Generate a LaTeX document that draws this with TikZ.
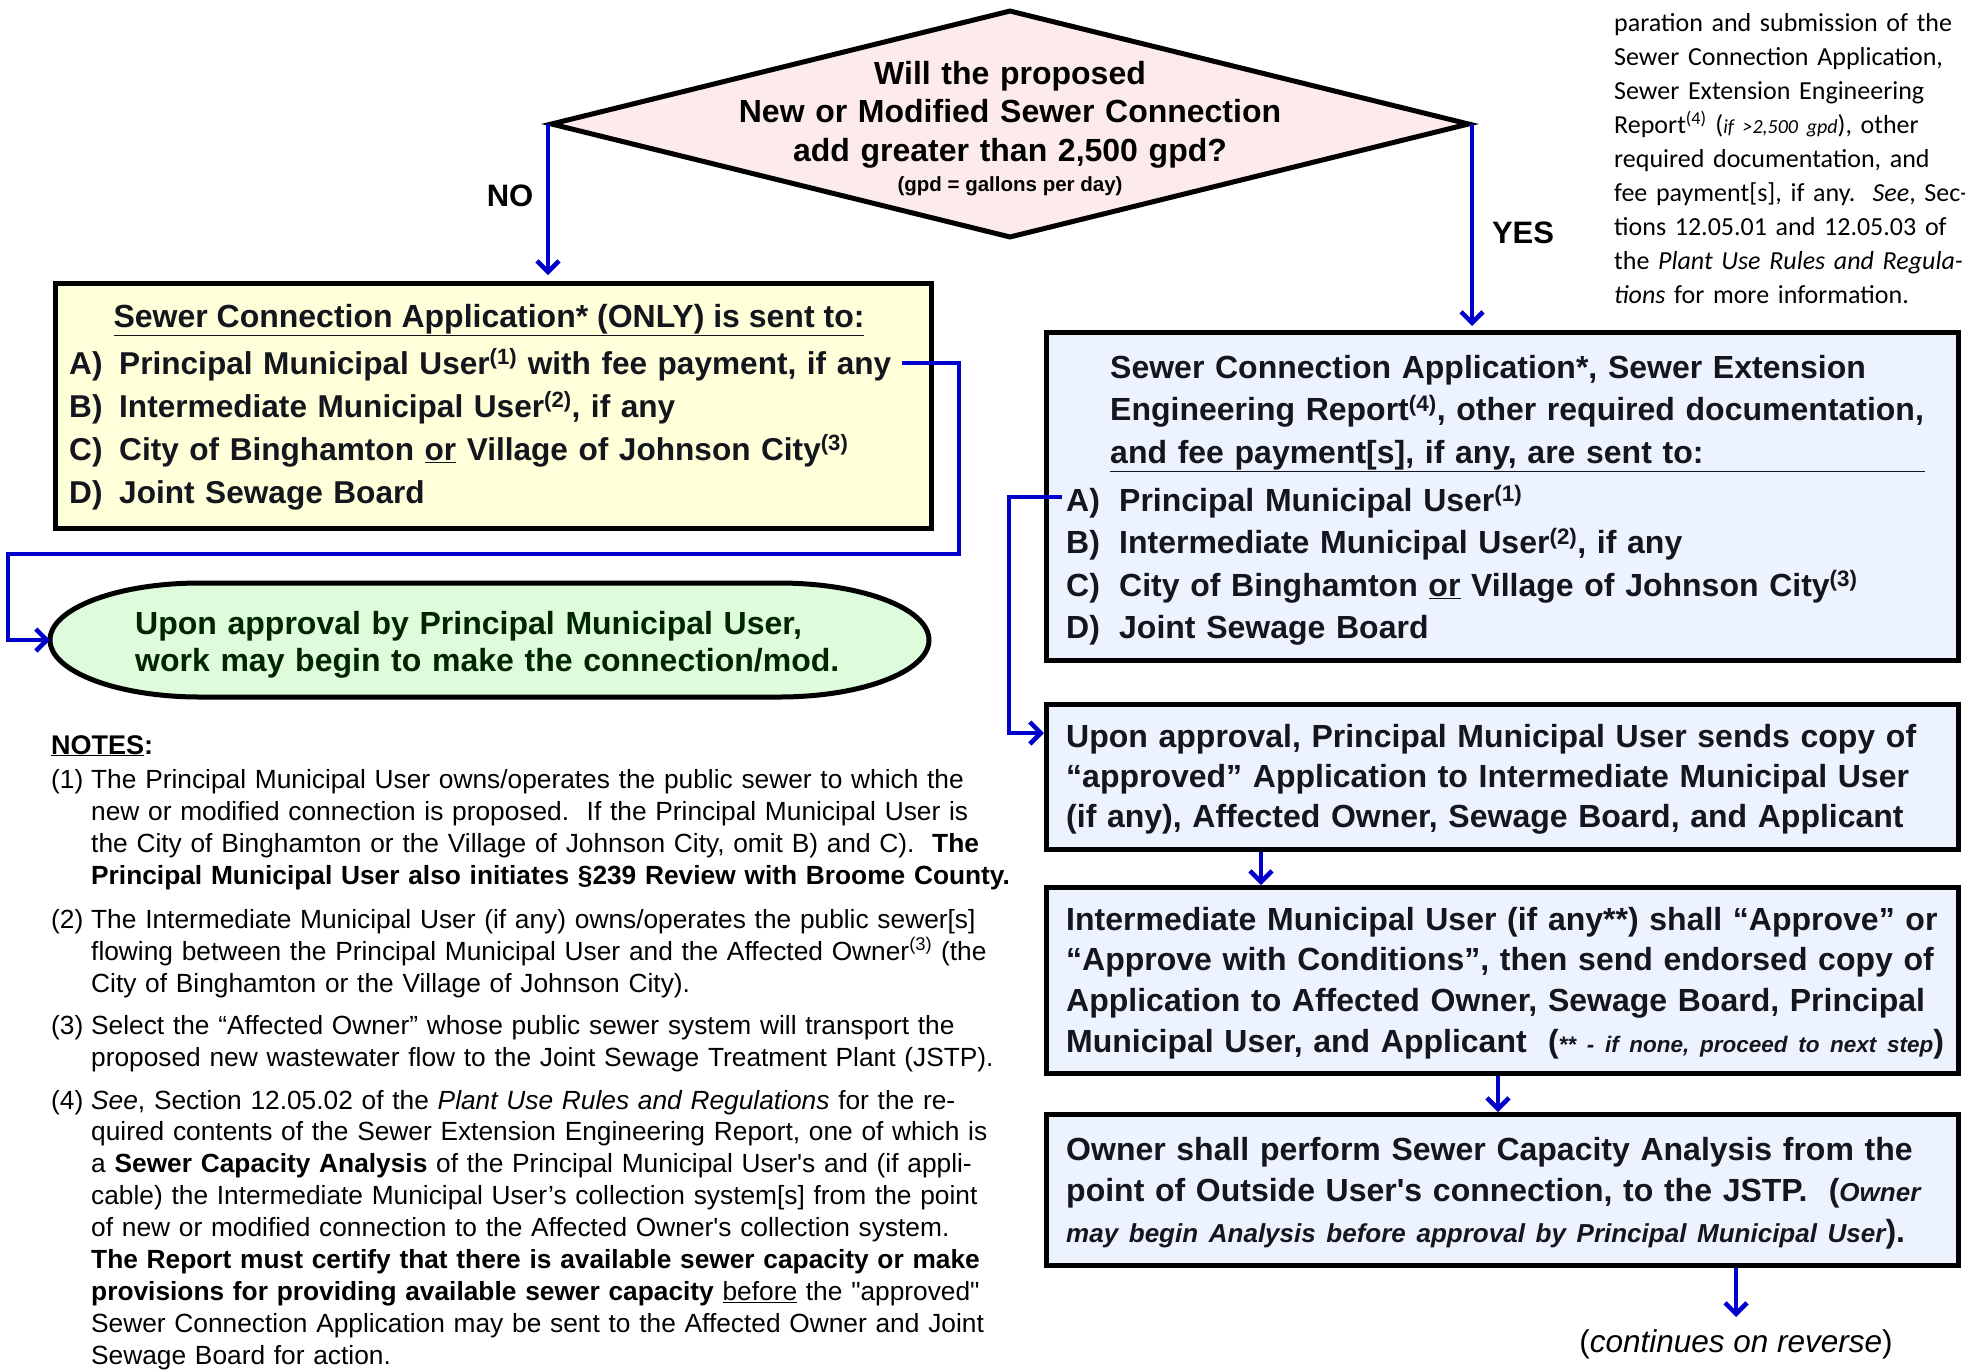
\documentclass[tikz,border=0pt]{standalone}
\usepackage{fontspec}
\setmainfont{Liberation Sans}[Ligatures=TeXOff]
\newfontfamily\calibri{Carlito}[Ligatures=TeXOff]
\usetikzlibrary{arrows.meta,shapes.geometric,calc}
\definecolor{arrowblue}{RGB}{0,0,204}
\definecolor{pinkfill}{RGB}{253,234,234}
\definecolor{yelfill}{RGB}{255,255,218}
\definecolor{grnfill}{RGB}{222,251,220}
\definecolor{bluefill}{RGB}{237,243,254}
\definecolor{txtdark}{RGB}{20,22,30}
\newcommand\fnsup[1]{\textsuperscript{(#1)}}
\newcommand\lbl[1]{\makebox[50pt][l]{#1}}
\newcommand\lblb[1]{\makebox[53pt][l]{#1}}
\newcommand\hang{\hspace*{40pt}}
\begin{document}
\begin{tikzpicture}[x=1pt,y=-1pt,
  arr/.style={draw=arrowblue, line width=4.5pt, -{Straight Barb[length=11pt,width=22pt]}},
  boxst/.style={draw=black, line width=5pt, anchor=north west, inner sep=0pt},
  txt/.style={anchor=base west, inner sep=0pt, align=left, text width=1100pt, text=txtdark},
  bfont/.style={font=\fontsize{32}{42.5}\selectfont\bfseries}
]
\useasboundingbox (0,0) rectangle (1965,1369);

% ---------- decision diamond ----------
\node[diamond, draw=black, line width=5pt, fill=pinkfill, minimum width=919pt, minimum height=228pt, inner sep=0pt] (dia) at (1010,124) {};
\node[anchor=base, inner sep=0pt, align=center, text width=900pt, font=\fontsize{32}{38.5}\selectfont\bfseries] (diatxt) at (1010,84)
  {Will the proposed\\New or Modified Sewer Connection\\add greater than 2,500 gpd?};
\node[anchor=base, inner sep=0pt, font=\fontsize{20.5}{24}\selectfont\bfseries] (diasub) at (1010,191) {(gpd = gallons per day)};
\node[anchor=base, inner sep=0pt, font=\fontsize{31}{36}\selectfont\bfseries] (no) at (510,206) {NO};
\node[anchor=base, inner sep=0pt, font=\fontsize{31}{36}\selectfont\bfseries] (yes) at (1523,243) {YES};

% ---------- left (NO) branch ----------
\node[boxst, fill=yelfill, minimum width=876pt, minimum height=245pt] (yel) at (53,281) {};
\node[anchor=base, inner sep=0pt, font=\fontsize{32}{42}\selectfont\bfseries, text=txtdark] (yeltitle) at (489,327)
  {\underline{Sewer Connection Application* (ONLY) is sent to:}};
\node[txt, font=\fontsize{31.6}{43}\selectfont\bfseries] (yelitems) at (69,374)
  {\lbl{A)}Principal Municipal User\fnsup{1} with fee payment, if any\\
   \lbl{B)}Intermediate Municipal User\fnsup{2}, if any\\
   \lbl{C)}City of Binghamton \underline{or} Village of Johnson City\fnsup{3}\\
   \lbl{D)}Joint Sewage Board};
\coordinate (yA) at (902,363);

\path[draw=black, line width=5pt, fill=grnfill]
  (200,583) -- (779,583) arc[start angle=-90, end angle=90, x radius=150, y radius=57]
  -- (200,697) arc[start angle=90, end angle=270, x radius=150, y radius=57] -- cycle;
\coordinate (gW) at (50,640);
\node[txt, font=\fontsize{32}{37}\selectfont\bfseries, text=black!85!green] (grntxt) at (135,634)
  {Upon approval by Principal Municipal User,\\work may begin to make the connection/mod.};

% ---------- right (YES) branch ----------
\node[boxst, fill=bluefill, minimum width=912pt, minimum height=328pt] (b1) at (1044,330) {};
\node[txt, bfont] (b1head) at (1110,378)
  {Sewer Connection Application*, Sewer Extension\\
   Engineering Report\fnsup{4}, other required documentation,\\
   \underline{\makebox[815pt][l]{and fee payment[s], if any, are sent to:}}};
\node[txt, bfont] (b1items) at (1066,511)
  {\lblb{A)}Principal Municipal User\fnsup{1}\\
   \lblb{B)}Intermediate Municipal User\fnsup{2}, if any\\
   \lblb{C)}City of Binghamton \underline{or} Village of Johnson City\fnsup{3}\\
   \lblb{D)}Joint Sewage Board};
\coordinate (bA) at (1062,497);

\node[boxst, fill=bluefill, minimum width=912pt, minimum height=145pt] (b2) at (1044,702) {};
\node[txt, font=\fontsize{32}{40}\selectfont\bfseries] (b2txt) at (1066,747)
  {Upon approval, Principal Municipal User sends copy of\\
   “approved” Application to Intermediate Municipal User\\
   (if any), Affected Owner, Sewage Board, and Applicant};
\coordinate (b2in) at ($(b2.north west)+(0,31)$);

\node[boxst, fill=bluefill, minimum width=912pt, minimum height=186pt] (b3) at (1044,885) {};
\node[txt, font=\fontsize{32}{40.7}\selectfont\bfseries] (b3txt) at (1066,930)
  {Intermediate Municipal User (if any**) shall “Approve” or\\
   “Approve with Conditions”, then send endorsed copy of\\
   Application to Affected Owner, Sewage Board, Principal\\
   Municipal User, and Applicant\ \ ({\fontsize{22.5}{27}\selectfont\itshape ** - if none, proceed to next step})};

\node[boxst, fill=bluefill, minimum width=912pt, minimum height=151pt] (b4) at (1044,1112) {};
\node[txt, font=\fontsize{32}{41}\selectfont\bfseries] (b4txt) at (1066,1160)
  {Owner shall perform Sewer Capacity Analysis from the\\
   point of Outside User's connection, to the JSTP.\ \ ({\fontsize{26}{30}\selectfont\itshape Owner}\\
   {\fontsize{26}{30}\selectfont\itshape may begin Analysis before approval by Principal Municipal User}).};

\node[anchor=base, inner sep=0pt, font=\fontsize{31.5}{36}\selectfont] (cont) at (1736,1352) {(\textit{continues on reverse})};

% ---------- top-right note ----------
\node[anchor=base west, inner sep=0pt, align=left, text width=500pt, font=\calibri\fontsize{26}{34.1}\selectfont] (topnote) at (1614,31)
  {paration and submission of the\\
   Sewer Connection Application,\\
   Sewer Extension Engineering\\
   Report\textsuperscript{(4)} ({\fontsize{20}{24}\selectfont\itshape if >2,500 gpd}), other\\
   required documentation, and\\
   fee payment[s], if any.\ \ \textit{See}, Sec-\\
   tions 12.05.01 and 12.05.03 of\\
   the \textit{Plant Use Rules and Regula-}\\
   \textit{tions} for more information.};

% ---------- notes ----------
\node[anchor=base west, inner sep=0pt, font=\fontsize{27}{32}\selectfont\bfseries] (notes) at (51,754) {\underline{NOTES}:};
\node[txt, font=\fontsize{26.3}{32}\selectfont, text=black] (n1) at (51,788)
  {\makebox[40pt][l]{(1)}The Principal Municipal User owns/operates the public sewer to which the\\
   \hang new or modified connection is proposed.\ \ If the Principal Municipal User is\\
   \hang the City of Binghamton or the Village of Johnson City, omit B) and C).\ \ \textbf{The}\\
   \hang \textbf{Principal Municipal User also initiates §239 Review with Broome County.}};
\node[txt, font=\fontsize{26.3}{32}\selectfont, text=black] (n2) at (51,928)
  {\makebox[40pt][l]{(2)}The Intermediate Municipal User (if any) owns/operates the public sewer[s]\\
   \hang flowing between the Principal Municipal User and the Affected Owner\fnsup{3} (the\\
   \hang City of Binghamton or the Village of Johnson City).};
\node[txt, font=\fontsize{26.3}{32}\selectfont, text=black] (n3) at (51,1034)
  {\makebox[40pt][l]{(3)}Select the “Affected Owner” whose public sewer system will transport the\\
   \hang proposed new wastewater flow to the Joint Sewage Treatment Plant (JSTP).};
\node[txt, font=\fontsize{26.3}{31.9}\selectfont, text=black] (n4) at (51,1109)
  {\makebox[40pt][l]{(4)}\textit{See}, Section 12.05.02 of the \textit{Plant Use Rules and Regulations} for the re-\\
   \hang quired contents of the Sewer Extension Engineering Report, one of which is\\
   \hang a \textbf{Sewer Capacity Analysis} of the Principal Municipal User's and (if appli-\\
   \hang cable) the Intermediate Municipal User’s collection system[s] from the point\\
   \hang of new or modified connection to the Affected Owner's collection system.\\
   \hang \textbf{The Report must certify that there is available sewer capacity or make}\\
   \hang \textbf{provisions for providing available sewer capacity} \underline{before} the "approved"\\
   \hang Sewer Connection Application may be sent to the Affected Owner and Joint\\
   \hang Sewage Board for action.};

% ---------- connectors ----------
\draw[arr, shorten >=6pt] (dia.west) -- (dia.west |- yel.north);
\draw[arr, shorten >=4pt] (dia.east) -- (dia.east |- b1.north);
\draw[arr] (yA) -- (959,363) -- (959,554) -- (8,554) -- (8,640) -- (gW);
\draw[arr] (bA) -- (1009,497) |- (b2in);
\draw[arr] ([xshift=217pt]b2.south west) -- ([xshift=217pt]b3.north west);
\draw[arr] ([xshift=454pt]b3.south west) -- ([xshift=454pt]b4.north west);
\draw[arr] ([xshift=692pt]b4.south west) -- ++(0,49);
\end{tikzpicture}
\end{document}
